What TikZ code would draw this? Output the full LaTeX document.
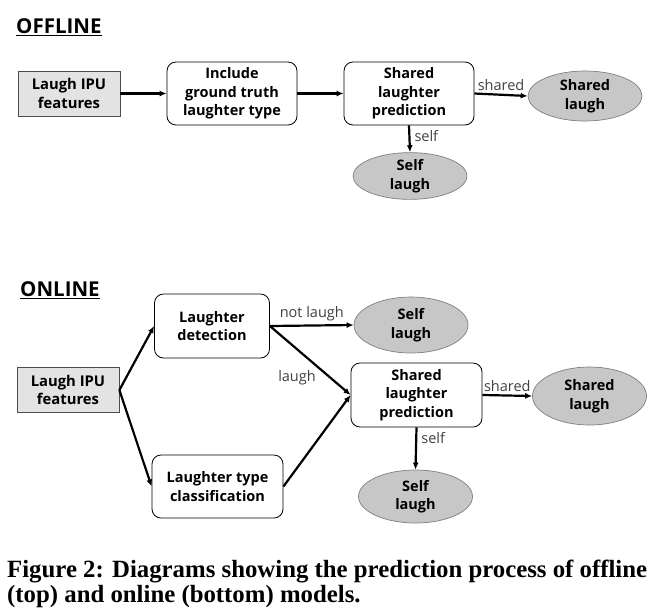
\documentclass[tikz,border=0pt]{standalone}
\usepackage{fontspec}
\setmainfont{Liberation Serif}
\newfontfamily\diagfont{Open Sans}
\usetikzlibrary{shapes.geometric,arrows.meta}
\begin{document}
\begin{tikzpicture}[x=1pt,y=-1pt,
  every node/.style={font=\diagfont\fontsize{14.5}{18.5}\selectfont, align=center, inner sep=0pt},
  inbox/.style={draw=black!70, fill=black!11, line width=0.8pt, minimum width=102pt, minimum height=45pt, font=\diagfont\bfseries\fontsize{14.8}{18.5}\selectfont},
  procbox/.style={draw=black, fill=white, rounded corners=9pt, line width=0.8pt, font=\diagfont\bfseries\fontsize{14.5}{18.5}\selectfont},
  outell/.style={ellipse, draw=black!50, fill=black!22, line width=0.7pt, minimum width=114pt, font=\diagfont\bfseries\fontsize{14.5}{18.5}\selectfont},
  flow/.style={-{Latex[length=7pt,width=6pt]}, line width=2.2pt},
  lab/.style={text=black!75, font=\diagfont\fontsize{14.5}{16}\selectfont},
  title/.style={font=\diagfont\bfseries\fontsize{20.5}{24}\selectfont, anchor=west}
]
\useasboundingbox (0,0) rectangle (658,614);
% OFFLINE
\node[title] (toff) at (16,27) {\underline{OFFLINE}};
\node[inbox] (ipu1) at (69,93.5) {Laugh IPU\\features};
\node[procbox, minimum width=130pt, minimum height=63pt] (incl) at (232,93.5) {Include\\ground truth\\laughter type};
\node[procbox, minimum width=130pt, minimum height=63pt] (sp1) at (409,93.5) {Shared\\laughter\\prediction};
\node[outell, minimum height=50pt] (sl1) at (585,96) {Shared\\laugh};
\node[outell, minimum height=46pt] (self1) at (410,176) {Self\\laugh};
\draw[flow] (ipu1.east) -- (incl.west);
\draw[flow] (incl.east) -- (sp1.west);
\draw[flow] (sp1.east) -- (sl1.west) node[lab, pos=0.5, above=3pt] (lsh1) {shared};
\draw[flow] (sp1.south) -- (self1.north) node[lab, pos=0.4, right=4pt] (lse1) {self};
% ONLINE
\node[title] (ton) at (20,290) {\underline{ONLINE}};
\node[inbox] (ipu2) at (68,390) {Laugh IPU\\features};
\node[procbox, minimum width=115pt, minimum height=64pt] (det) at (212,326) {Laughter\\detection};
\node[procbox, minimum width=131pt, minimum height=63pt] (cls) at (217.5,486.5) {Laughter type\\classification};
\node[outell, minimum height=56pt] (self2) at (411,325) {Self\\laugh};
\node[procbox, minimum width=131pt, minimum height=64pt] (sp2) at (416.5,395) {Shared\\laughter\\prediction};
\node[outell, minimum height=58pt] (sl2) at (589.5,396) {Shared\\laugh};
\node[outell, minimum height=53pt] (self3) at (415.5,496.5) {Self\\laugh};
\draw[flow] (ipu2.east) -- (det.west);
\draw[flow] (ipu2.east) -- (cls.west);
\draw[flow] (det.east) -- (self2.west) node[lab, pos=0.5, above=3pt] (lnl) {not laugh};
\draw[flow] (det.east) -- (sp2.west);
\node[lab] (ll) at (297,378) {laugh};
\draw[flow] (cls.east) -- (sp2.west);
\draw[flow] (sp2.east) -- (sl2.west) node[lab, pos=0.5, above=3pt] (lsh2) {shared};
\draw[flow] (sp2.south) -- (self3.north) node[lab, pos=0.25, right=4pt] (lse2) {self};
% caption
\node[anchor=base west, align=left, inner sep=0pt, font=\rmfamily\bfseries\fontsize{24.8}{25}\selectfont] (cap) at (7,602)
 {Figure 2: Diagrams showing the prediction process of offline\\(top) and online (bottom) models.};
\end{tikzpicture}
\end{document}
